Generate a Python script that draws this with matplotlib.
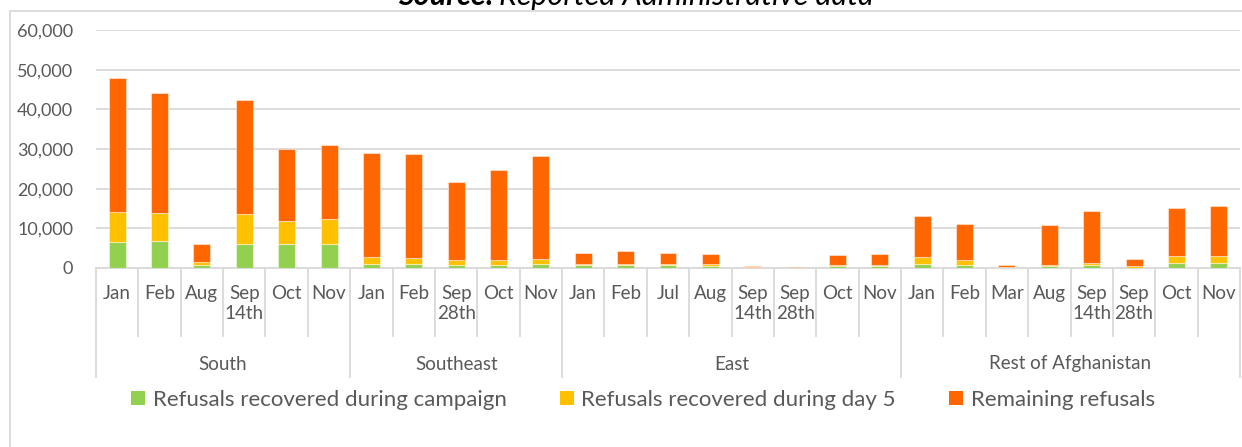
import matplotlib
matplotlib.use("Agg")
import matplotlib.pyplot as plt
from matplotlib.patches import Rectangle, Patch
import numpy as np

regions = ["South", "Southeast", "East", "Rest of Afghanistan"]
months = [
    ["Jan", "Feb", "Aug", "Sep\n14th", "Oct", "Nov"],
    ["Jan", "Feb", "Sep\n28th", "Oct", "Nov"],
    ["Jan", "Feb", "Jul", "Aug", "Sep\n14th", "Sep\n28th", "Oct", "Nov"],
    ["Jan", "Feb", "Mar", "Aug", "Sep\n14th", "Sep\n28th", "Oct", "Nov"],
]
recovered_campaign = [6500, 6800, 650, 5950, 5950, 6100,
                      1080, 1080, 830, 750, 910,
                      650, 650, 750, 500, 100, 50, 400, 400,
                      1000, 650, 100, 600, 830, 100, 1160, 1160]
recovered_day5 = [7500, 7050, 750, 7550, 5880, 6130,
                  1760, 1510, 1260, 1160, 1430,
                  350, 350, 330, 500, 100, 50, 250, 430,
                  1840, 1360, 100, 230, 500, 300, 1940, 1940]
remaining = [33800, 30200, 4550, 28850, 18120, 18800,
             26260, 26100, 19630, 22830, 26000,
             2850, 3350, 2770, 2520, 380, 200, 2520, 2770,
             10320, 9060, 630, 9990, 13020, 1940, 12000, 12500]
series_names = ["Refusals recovered during campaign",
                "Refusals recovered during day 5",
                "Remaining refusals"]
colors = ["#92D050", "#FFC000", "#FF6600"]

plt.rcParams['font.family'] = ['Lato', 'DejaVu Sans']
TXT = "#595959"
GRID = "#d9d9d9"

W, H = 1242, 447
fig = plt.figure(figsize=(W / 100, H / 100), dpi=100)
ax_l, ax_r, ax_b, ax_t = 96, 1240, 268, 30
ax = fig.add_axes([ax_l / W, 1 - ax_b / H, (ax_r - ax_l) / W, (ax_b - ax_t) / H])

labels = [m for g in months for m in g]
x = np.arange(len(labels))
g = np.array(recovered_campaign)
y = np.array(recovered_day5)
r = np.array(remaining)
edge = (1, 1, 1, 0.45)
ax.bar(x, g, width=0.4, color=colors[0], edgecolor=edge, linewidth=0.8, zorder=3)
ax.bar(x, y, bottom=g, width=0.4, color=colors[1], edgecolor=edge, linewidth=0.8, zorder=3)
ax.bar(x, r, bottom=g + y, width=0.4, color=colors[2], edgecolor=edge, linewidth=0.8, zorder=3)

ax.set_xlim(-0.5, len(labels) - 0.5)
ax.set_ylim(0, 60000)
ax.set_yticks(np.arange(0, 60001, 10000))
ax.set_yticklabels([f"{v:,}" for v in range(0, 60001, 10000)])
ax.tick_params(axis='y', length=0, pad=16.5, labelsize=13, labelcolor=TXT)
ax.set_xticks([])
for s in ["top", "right", "left", "bottom"]:
    ax.spines[s].set_visible(False)
ax.yaxis.grid(True, color=GRID, linewidth=1.3, zorder=0)
ax.set_axisbelow(True)

def ypix(p):
    return (ax_b - p) / (ax_b - ax_t)

trans = ax.get_xaxis_transform()
# baseline
ax.plot([-0.5, len(labels) - 0.5], [0, 0], transform=trans, color=GRID, lw=1.3, clip_on=False, zorder=2)
# month labels
for i, lab in enumerate(labels):
    ax.text(i, ypix(285), lab, transform=trans, ha='center', va='top',
            fontsize=13.5, color=TXT, linespacing=1.2)
# separators
starts = np.cumsum([0] + [len(m) for m in months])
for b in range(len(labels) + 1):
    bx = b - 0.5
    bottom = 377 if b in starts else 336
    ax.plot([bx, bx], [ypix(268), ypix(bottom)], transform=trans, color=GRID,
            lw=1.3, clip_on=False)
# region labels
for k, reg in enumerate(regions):
    c = (starts[k] + starts[k + 1] - 1) / 2
    ax.text(c, ypix(364), reg, transform=trans, ha='center', va='center',
            fontsize=13.5, color=TXT)

# legend
handles = [Patch(facecolor=c, edgecolor='none') for c in colors]
fig.legend(handles, series_names, loc='center', bbox_to_anchor=(643 / W, 1 - 400 / H),
           ncol=3, frameon=False, fontsize=16, labelcolor=TXT,
           handlelength=0.62, handleheight=0.62, handletextpad=0.35, columnspacing=2.4)

# chart border
fig.add_artist(Rectangle((10 / W, -0.1), 1.2, 1.1 - 11 / H, transform=fig.transFigure,
                         fill=False, edgecolor=GRID, linewidth=1.3))

# clipped title
fig.text(494 / W, 1 - 5 / H, "Source:", ha='right', va='baseline', fontsize=22,
         fontweight='bold', fontstyle='italic', color='black')
fig.text(499 / W, 1 - 5 / H, "Reported Administrative data", ha='left', va='baseline',
         fontsize=22, fontstyle='italic', color='black')

fig.savefig("out.png", dpi=100)
